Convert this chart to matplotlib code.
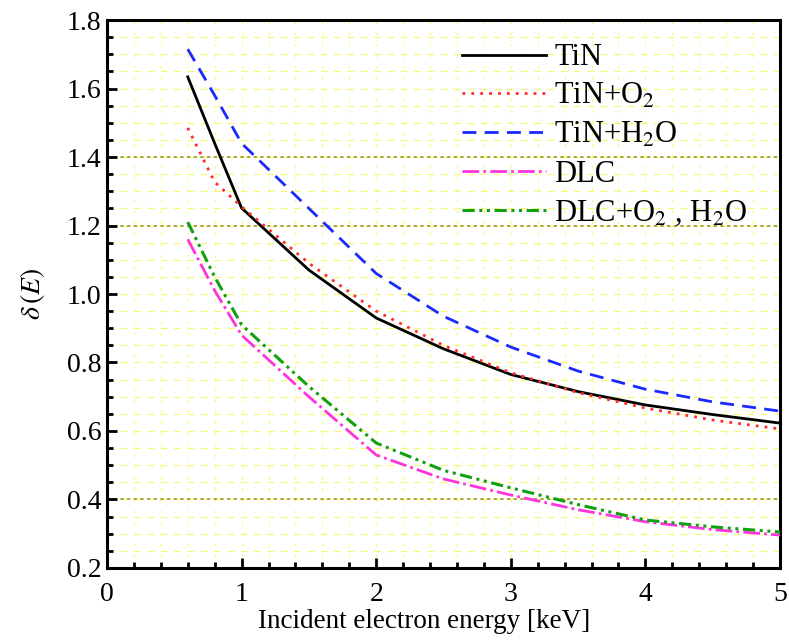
import numpy as np
import matplotlib
matplotlib.use("Agg")
import matplotlib.pyplot as plt
from matplotlib.ticker import MultipleLocator, FormatStrFormatter

# ---- data ----
energy = [0.6, 0.8, 1.0, 1.5, 2.0, 2.5, 3.0, 3.5, 4.0, 4.5, 5.0]
tin     = [1.634, 1.44, 1.251, 1.07, 0.930, 0.840, 0.765, 0.715, 0.676, 0.648, 0.623]
tin_o2  = [1.485, 1.327, 1.255, 1.09, 0.950, 0.850, 0.770, 0.712, 0.667, 0.632, 0.606]
tin_h2o = [1.715, 1.58, 1.44, 1.25, 1.060, 0.935, 0.845, 0.775, 0.722, 0.685, 0.658]
dlc     = [1.160, 1.01, 0.880, 0.700, 0.530, 0.460, 0.413, 0.370, 0.335, 0.312, 0.296]
dlc_ox  = [1.210, 1.05, 0.910, 0.730, 0.565, 0.485, 0.434, 0.385, 0.340, 0.320, 0.305]

labels = ["TiN", "TiN+O$_2$", "TiN+H$_2$O", "DLC", "DLC+O$_2$ , H$_2$O"]
series = [tin, tin_o2, tin_h2o, dlc, dlc_ox]
colors = ["black", "#ff2a2a", "#1a2aff", "#ff33dd", "#11a011"]
styles = ["-", (0, (1, 2.2)), (0, (5, 3)), (0, (6, 1.5, 1, 1.5)), (0, (4, 1.5, 1, 1.5, 1, 1.5))]
widths = [2.0, 2.0, 2.0, 2.0, 2.2]

plt.rcParams['font.family'] = ['Liberation Serif', 'DejaVu Serif']
plt.rcParams['mathtext.fontset'] = 'stix'

fig = plt.figure(figsize=(7.89, 6.42), dpi=100)
ax = fig.add_axes([0.1356, 0.1153, 0.8530, 0.8535])

ax.set_xlim(0, 5)
ax.set_ylim(0.2, 1.8)

ax.xaxis.set_major_locator(MultipleLocator(1))
ax.xaxis.set_minor_locator(MultipleLocator(0.2))
ax.yaxis.set_major_locator(MultipleLocator(0.2))
ax.yaxis.set_minor_locator(MultipleLocator(0.05))
ax.yaxis.set_major_formatter(FormatStrFormatter('%.1f'))

# background grids
for yv in np.arange(0.25, 1.8, 0.05):
    ax.axhline(yv, color='#f8f86a', lw=0.8, ls=(0, (6, 6)), zorder=0)
for xv in np.arange(0.2, 5.0, 0.2):
    ax.axvline(xv, color='#f8f86a', lw=0.8, ls=(0, (2, 8)), zorder=0)
for yv in [0.4, 1.2, 1.4]:
    ax.axhline(yv, color='#9a9a20', lw=1.2, ls=(0, (2, 2)), zorder=1)

for y, lab, c, s, w in zip(series, labels, colors, styles, widths):
    ax.plot(energy, y, color=c, ls=s, lw=w, label=lab, zorder=3)

ax.tick_params(which='both', direction='in', top=False, right=False, labelsize=20, width=2)
ax.tick_params(which='major', length=7)
ax.tick_params(which='minor', length=4)
ax.tick_params(axis='x', pad=10)
ax.tick_params(axis='y', pad=4)
for sp in ax.spines.values():
    sp.set_linewidth(2.2)

ax.set_xlabel("Incident electron energy [keV]", fontsize=19.5)
ax.xaxis.set_label_coords(0.471, -0.075)
ax.set_ylabel(r"$\delta\,(E)$", fontsize=20, labelpad=14)

leg = ax.legend(loc='upper left', bbox_to_anchor=(0.51, 0.98), frameon=False,
                fontsize=22, handlelength=2.75, handletextpad=0.26, labelspacing=0.32,
                borderaxespad=0)

fig.savefig("out.png", dpi=100)
